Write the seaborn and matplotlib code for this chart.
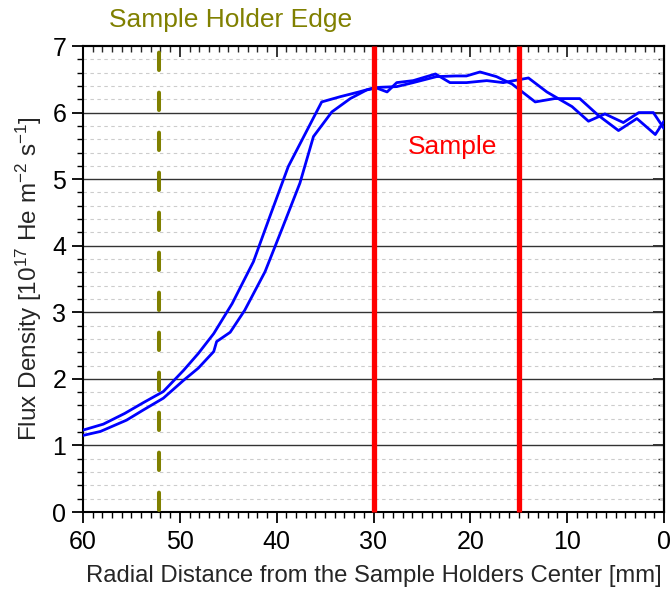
import matplotlib
matplotlib.use("Agg")
import matplotlib.pyplot as plt
from matplotlib.ticker import MultipleLocator
import numpy as np
import pandas as pd
import seaborn as sns

# Radial flux profiles of the two scans (distance in mm, flux in 1e17 He m^-2 s^-1)
r_scan1 = [60, 57.9, 55.7, 53.8, 51.7, 49.6, 48.1, 46.5, 44.6, 42.4, 40.6, 38.8,
           35.35, 33.4, 31.5, 30.0, 29.3, 27.6, 25.9, 23.5, 21.5, 20.4, 19.0,
           17.3, 15.7, 13.3, 11.3, 8.7, 6.8, 4.7, 2.8, 0.9, 0.0]
flux_scan1 = [1.23, 1.32, 1.48, 1.64, 1.81, 2.13, 2.38, 2.68, 3.13, 3.76, 4.48, 5.19,
              6.16, 6.24, 6.31, 6.37, 6.38, 6.39, 6.45, 6.54, 6.55, 6.55, 6.61,
              6.54, 6.43, 6.16, 6.21, 6.21, 5.96, 5.73, 5.91, 5.67, 5.87]

r_scan2 = [60, 58.2, 55.5, 53.8, 51.7, 49.6, 48.1, 46.5, 46.2, 44.8, 43.3, 41.2,
           39.4, 37.6, 36.2, 34.3, 32.4, 30.7, 29.7, 28.6, 27.6, 25.9, 23.6,
           22.1, 20.4, 18.3, 16.6, 14.0, 12.1, 9.5, 7.8, 6.1, 4.2, 2.6, 1.1, 0.0]
flux_scan2 = [1.15, 1.21, 1.38, 1.53, 1.71, 1.98, 2.16, 2.41, 2.56, 2.70, 3.03, 3.61,
              4.27, 4.94, 5.64, 6.01, 6.21, 6.34, 6.37, 6.31, 6.45, 6.48, 6.58,
              6.45, 6.45, 6.48, 6.45, 6.52, 6.31, 6.09, 5.87, 5.98, 5.85, 6.00, 6.00, 5.76]

sample_bounds = [30, 15]
holder_edge = 52.2

x_ticks = [60, 50, 40, 30, 20, 10, 0]
y_ticks = [0, 1, 2, 3, 4, 5, 6, 7]

df = pd.concat([
    pd.DataFrame({"r": r_scan1, "flux": flux_scan1, "scan": "scan 1"}),
    pd.DataFrame({"r": r_scan2, "flux": flux_scan2, "scan": "scan 2"}),
], ignore_index=True)

sns.set_style("white")
plt.rcParams["font.family"] = ["Liberation Sans", "DejaVu Sans"]
plt.rcParams["mathtext.fontset"] = "custom"
plt.rcParams["mathtext.rm"] = "Liberation Sans"
plt.rcParams["mathtext.it"] = "Liberation Sans:italic"
plt.rcParams["mathtext.bf"] = "Liberation Sans:bold"
plt.rcParams["lines.scale_dashes"] = False

fig = plt.figure(figsize=(6.72, 5.89), dpi=100)
ax = fig.add_axes([83 / 672, 1 - 512 / 589, (664 - 83) / 672, (512 - 46) / 589])

# horizontal grid: solid at integers, dashed at the 0.2 subdivisions
for yv in np.arange(0.2, 7.0, 0.2):
    if abs(yv - round(yv)) < 1e-6:
        ax.axhline(yv, color="#333333", lw=1.0, zorder=1)
    else:
        ax.axhline(yv, color="#cccccc", lw=0.8, ls=(0, (2.5, 2.5)), zorder=1)

sns.lineplot(data=df, x="r", y="flux", units="scan", estimator=None, sort=False,
             color="#0000ff", lw=2.0, ax=ax, zorder=3, legend=False)

# sample boundaries
for xv in sample_bounds:
    ax.plot([xv, xv], [0, 7.0], color="#ff0000", lw=3.8, solid_capstyle="butt",
            zorder=4, clip_on=False)

# sample holder edge
ax.plot([holder_edge, holder_edge], [0.03, 6.93], color="#808000", lw=2.9,
        dashes=(12.5, 16.3), dash_capstyle="round", zorder=4)

ax.text(21.8, 5.48, "Sample", color="#ff0000", fontsize=19, ha="center", va="center")
fig.text(231 / 672, 1 - 20 / 589, "Sample Holder Edge", color="#808000",
         fontsize=19, ha="center", va="center")

ax.set_xlim(60, 0)
ax.set_ylim(0, 7)
ax.set_xticks(x_ticks)
ax.set_yticks(y_ticks)
ax.xaxis.set_minor_locator(MultipleLocator(1))
ax.yaxis.set_minor_locator(MultipleLocator(0.2))

ax.tick_params(axis="both", which="major", labelsize=18, width=1.3, length=8,
               color="black", labelcolor="black")
ax.tick_params(axis="both", which="minor", width=1.0, length=4.5, color="black")
ax.tick_params(axis="x", which="both", direction="out", bottom=True, pad=5)
ax.tick_params(axis="y", which="both", direction="out", left=True, pad=4)

for side in ["top", "bottom", "left", "right"]:
    ax.spines[side].set_visible(True)
    ax.spines[side].set_color("black")
    ax.spines[side].set_linewidth(1.5)

# inward ticks on the top and right edges
sec_x = ax.secondary_xaxis("top")
sec_x.set_xticks(x_ticks)
sec_x.xaxis.set_minor_locator(MultipleLocator(1))
sec_x.tick_params(which="major", direction="in", length=8, width=1.3, labeltop=False)
sec_x.tick_params(which="minor", direction="in", length=4.5, width=1.0)
sec_y = ax.secondary_yaxis("right")
sec_y.set_yticks(y_ticks)
sec_y.yaxis.set_minor_locator(MultipleLocator(0.2))
sec_y.tick_params(which="major", direction="in", length=8, width=1.3, labelright=False)
sec_y.tick_params(which="minor", direction="in", length=4.5, width=1.0)
ax.tick_params(top=False, right=False, which="both")
for s in sec_x.spines.values():
    s.set_linewidth(1.5)
for s in sec_y.spines.values():
    s.set_linewidth(1.5)

ax.set_xlabel("Radial Distance from the Sample Holders Center [mm]", fontsize=17.2,
              labelpad=8)
ax.set_ylabel(r"Flux Density [10$^{17}$ He m$^{-2}$ s$^{-1}$]", fontsize=17.5,
              labelpad=6)

fig.savefig("out.png", dpi=100)
